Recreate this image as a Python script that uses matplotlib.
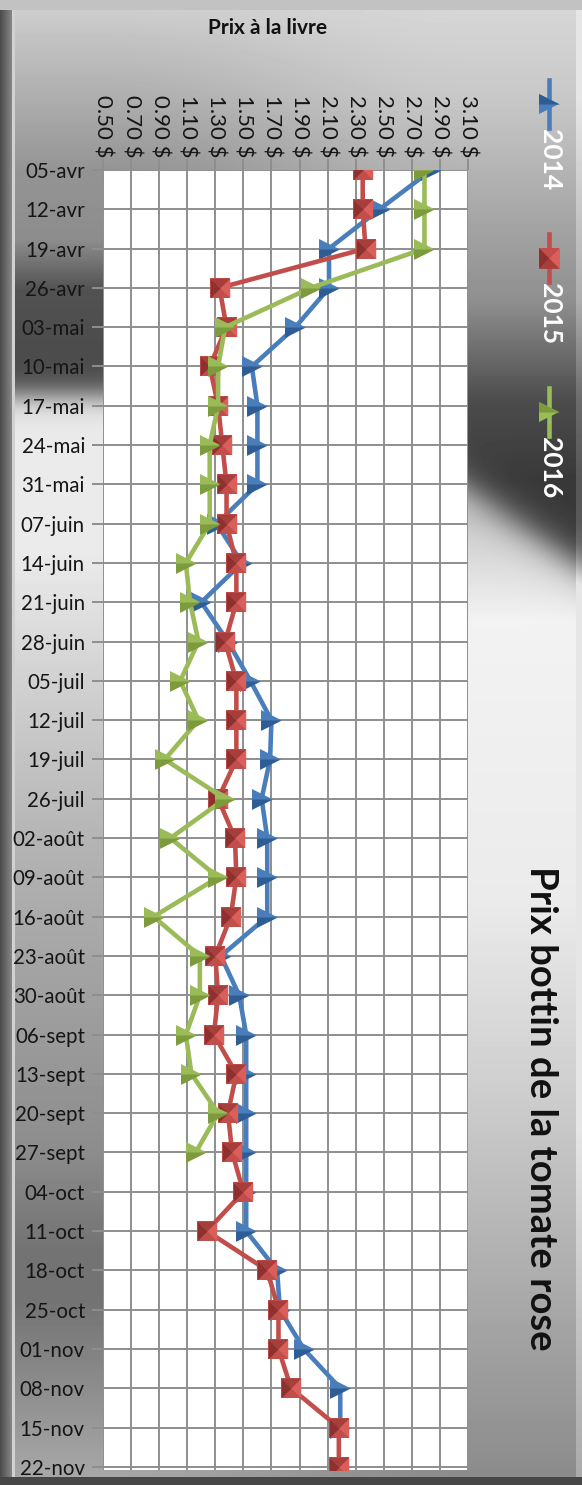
import numpy as np
import matplotlib.pyplot as plt
from matplotlib.markers import MarkerStyle

plt.rcParams['font.family'] = ['Lato', 'DejaVu Sans']

# ── Données ──
semaines = ["05-avr", "12-avr", "19-avr", "26-avr", "03-mai", "10-mai", "17-mai",
            "24-mai", "31-mai", "07-juin", "14-juin", "21-juin", "28-juin", "05-juil",
            "12-juil", "19-juil", "26-juil", "02-août", "09-août", "16-août", "23-août",
            "30-août", "06-sept", "13-sept", "20-sept", "27-sept", "04-oct", "11-oct",
            "18-oct", "25-oct", "01-nov", "08-nov", "15-nov", "22-nov"]

nan = np.nan
prix_2014 = [2.84, 2.47, 2.11, 2.11, 1.87, 1.56, 1.60, 1.60, 1.60, 1.31, 1.49, 1.20,
             1.39, 1.55, 1.70, 1.69, 1.63, 1.67, 1.67, 1.67, 1.34, 1.47, 1.52, 1.52,
             1.52, 1.52, 1.52, 1.52, 1.74, 1.76, 1.93, 2.19, 2.19, nan]
prix_2015 = [2.35, 2.35, 2.37, 1.33, 1.38, 1.26, 1.32, 1.35, 1.38, 1.38, 1.45, 1.45,
             1.37, 1.45, 1.45, 1.45, 1.32, 1.44, 1.45, 1.41, 1.30, 1.32, 1.29, 1.45,
             1.39, 1.42, 1.50, 1.24, 1.67, 1.75, 1.75, 1.84, 2.18, 2.18]
prix_2016 = [2.79, 2.79, 2.79, 1.98, 1.37, 1.32, 1.32, 1.26, 1.26, 1.26, 1.09, 1.12,
             1.18, 1.05, 1.18, 0.94, 1.37, 0.98, 1.32, 0.86, 1.19, 1.19, 1.09, 1.13,
             1.32, 1.16, nan, nan, nan, nan, nan, nan, nan, nan]
annees = ["2014", "2015", "2016"]
prix_ticks = [0.50, 0.70, 0.90, 1.10, 1.30, 1.50, 1.70, 1.90, 2.10, 2.30, 2.50, 2.70, 2.90, 3.10]

W, H = 582, 1485
fig = plt.figure(figsize=(W / 100, H / 100), dpi=100)

# ── Fond gris "chrome" ──
yy, xx = np.mgrid[0:H, 0:W].astype(float)
# limite du reflet sombre (plate à gauche, en biais à droite)
y_lim_g = 395.0
y_lim_d = 490 + (xx - 470) * 0.69
haut_g = np.interp(yy, [12, 170, 240, 290, 390], [0.80, 0.58, 0.55, 0.32, 0.28])
bas_g = np.interp(yy, [400, 550, 680, 850, 1150, 1250, 1300, 1470],
                  [0.92, 0.92, 0.82, 0.70, 0.55, 0.45, 0.45, 0.65])
haut_d = np.interp(yy, [12, 100, 300, 400, 480], [0.84, 0.78, 0.56, 0.30, 0.22])
bas_d = np.interp(yy, [520, 620, 900, 1100, 1360, 1470], [0.80, 0.95, 0.92, 0.80, 0.62, 0.55])
s_g = 1 / (1 + np.exp((yy - y_lim_g) / 8))
s_d = 1 / (1 + np.exp((yy - y_lim_d) / 12))
gauche = s_g * haut_g + (1 - s_g) * bas_g
droite = s_d * haut_d + (1 - s_d) * bas_d
wx = np.clip((xx - 100) / 370, 0, 1)
wx = wx * wx * (3 - 2 * wx)
bg = gauche * (1 - wx) + droite * wx
bg = np.where(xx < 12, 0.30 + 0.02 * xx, bg)
bg = np.where((xx >= 12) & (xx < 15), 0.82, bg)
bg = np.where(xx > 575, np.minimum(bg + 0.12, 0.9), bg)
bg = np.where(yy < 10, 0.76, bg)
bg = np.where(yy > 1476, 0.28, bg)
bg = np.clip(bg, 0, 1)

bg_ax = fig.add_axes([0, 0, 1, 1], zorder=-10)
bg_ax.imshow(bg, cmap='gray', vmin=0, vmax=1, aspect='auto', extent=[0, 1, 0, 1])
bg_ax.axis('off')

# ── Zone de tracé ──
ax = fig.add_axes([103 / W, 1 - 1470 / H, 365 / W, 1300 / H])
ax.set_facecolor('white')
rangs = np.arange(len(semaines))
ax.set_xlim(0.50, 3.10)
ax.set_ylim(len(semaines) - 1 + 0.08, 0)
for s in ax.spines.values():
    s.set_visible(False)
ax.set_xticks(prix_ticks)
ax.set_xticklabels([f"{p:.2f} $" for p in prix_ticks])
ax.set_yticks(rangs)
ax.set_yticklabels(semaines)
ax.grid(True, color='#8e8e8e', lw=1.4)
ax.set_axisbelow(True)
ax.xaxis.tick_top()
ax.tick_params(axis='x', length=8, width=1.4, color='#8e8e8e', labelrotation=-90,
               labelsize=16, pad=1, labelcolor='#151515')
ax.tick_params(axis='y', length=8, width=1.4, color='#8e8e8e', labelsize=14.8, pad=5,
               labelcolor='#151515')

# marqueurs en relief
tri_bas = MarkerStyle([(-1, -1), (1, 0), (-1, 0)])
tri_haut = MarkerStyle([(-1, 1), (1, 0), (-1, 0)])
carre_g = MarkerStyle([(-1, -1), (0, 0), (-1, 1)])
carre_h = MarkerStyle([(-1, 1), (0, 0), (1, 1)])
carre_b = MarkerStyle([(-1, -1), (0, 0), (1, -1)])
carre_d = MarkerStyle([(1, 1), (0, 0), (1, -1)])

series = [
    (prix_2014, '#4A7EBB', '#2E5D94', 'tri', 3),
    (prix_2015, '#C24E4B', '#8E312E', 'carre', 4),
    (prix_2016, '#9BBB59', '#7C9B3C', 'tri', 5),
]

for vals, c, fonce, forme, z in series:
    v = np.array(vals, dtype=float)
    ax.plot(v, rangs, color=c, lw=3.3, zorder=z, solid_joinstyle='round')
    if forme == 'tri':
        ax.plot(v, rangs, ls='none', marker='>', ms=15, mew=0, color=c, zorder=z + 0.1)
        ax.plot(v, rangs, ls='none', marker=tri_bas, ms=15, mew=0, color=fonce, zorder=z + 0.2)
    else:
        ax.plot(v, rangs, ls='none', marker='s', ms=14, mew=0, color=c, zorder=z + 0.1)
        ax.plot(v, rangs, ls='none', marker=carre_g, ms=14, mew=0, color=fonce, zorder=z + 0.2)
        ax.plot(v, rangs, ls='none', marker=carre_h, ms=14, mew=0, color='#A63E3B', zorder=z + 0.2)
        ax.plot(v, rangs, ls='none', marker=carre_d, ms=14, mew=0, color='#DA5E5A', zorder=z + 0.2)

# ── Textes et légende (coordonnées en pixels) ──
ov = fig.add_axes([0, 0, 1, 1], zorder=5)
ov.set_xlim(0, W)
ov.set_ylim(H, 0)
ov.axis('off')

ov.text(268, 28, "Prix à la livre", ha='center', va='center', fontsize=15,
        fontweight='bold', color='#111111')
ov.text(541, 866, "Prix bottin de la tomate rose", rotation=-90, ha='center', va='top',
        fontsize=27.5, fontweight='bold', color='#111111')

leg_y = [80, 234, 388]
for (vals, c, fonce, forme, z), an, y0 in zip(series, annees, leg_y):
    ov.plot([549, 549], [y0, y0 + 48], color=c, lw=3.3)
    ym = y0 + 24
    if forme == 'tri':
        ov.plot([549], [ym], marker='>', ms=15, mew=0, color=c)
        ov.plot([549], [ym], marker=tri_haut, ms=15, mew=0, color=fonce)
    else:
        ov.plot([549], [ym], marker='s', ms=15, mew=0, color=c)
        ov.plot([549], [ym], marker=carre_g, ms=15, mew=0, color=fonce)
        ov.plot([549], [ym], marker=carre_b, ms=15, mew=0, color='#A63E3B')
        ov.plot([549], [ym], marker=carre_d, ms=15, mew=0, color='#DA5E5A')
    ov.text(550, y0 + 49, an, rotation=-90, ha='center', va='top', fontsize=19,
            fontweight='bold', color='white')

fig.savefig("out.png", dpi=100)
